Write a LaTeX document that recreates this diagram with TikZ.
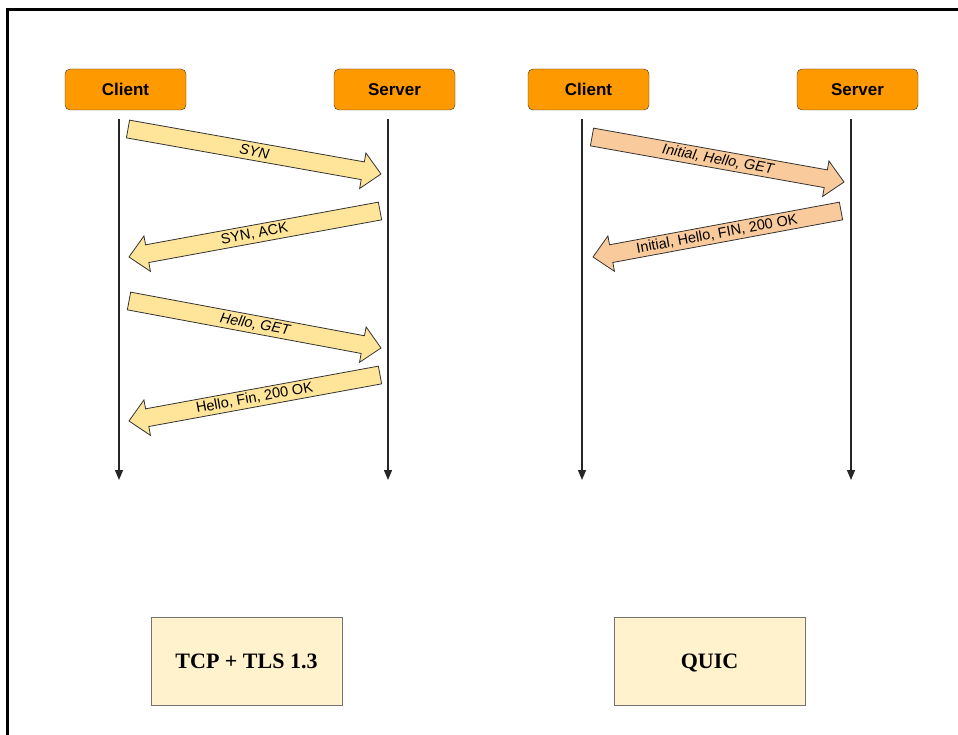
\documentclass[tikz,border=0pt]{standalone}
\usepackage{fontspec}
\setmainfont{Liberation Serif}
\setsansfont{Liberation Sans}
\usetikzlibrary{calc,arrows.meta}

\definecolor{partyorange}{HTML}{FF9900}
\definecolor{tcpyellow}{HTML}{FFE599}
\definecolor{quicpeach}{HTML}{F9CB9C}
\definecolor{resultfill}{HTML}{FFF2CC}

\tikzset{
  party/.style={draw=black!80, fill=partyorange, rounded corners=5pt,
    minimum width=121pt, minimum height=41pt, inner sep=0pt,
    font=\sffamily\bfseries\fontsize{17}{20}\selectfont},
  lifeline/.style={draw=black!85, line width=1.3pt,
    -{Triangle[length=10pt,width=8pt]}},
  result/.style={draw=black!55, fill=resultfill, line width=0.9pt,
    minimum width=191pt, minimum height=88pt, inner sep=0pt,
    text height=15pt, text depth=0pt,
    font=\bfseries\fontsize{22}{26}\selectfont},
  msgbody/.style={draw=black!80, line width=0.8pt, line join=miter},
  fwdlabel/.style={font=\sffamily\itshape\fontsize{14.5}{17}\selectfont, inner sep=0pt},
  backlabel/.style={font=\sffamily\fontsize{14.5}{17}\selectfont, inner sep=0pt},
}

% Block arrow from #1 (tail centre) to #2 (tip), fill #3, label style #4, label #5
\newcommand\msgarrow[5]{%
  \coordinate (hb) at ($(#2)!18.5pt!(#1)$);
  \draw[msgbody, fill=#3]
    ($(#1)!9pt!90:(#2)$) -- ($(hb)!9pt!90:(#2)$) -- ($(hb)!18pt!90:(#2)$)
    -- (#2) -- ($(hb)!18pt!-90:(#2)$) -- ($(hb)!9pt!-90:(#2)$)
    -- ($(#1)!9pt!-90:(#2)$) -- cycle;
  \path (#1) -- (#2) node[midway, sloped, #4] {#5};
}

\begin{document}
\begin{tikzpicture}[x=1pt, y=-1pt]
  \useasboundingbox (0,0) rectangle (958,735);
  \fill[white] (0,0) rectangle (958,735);

  % outer frame (only top and left edges fall inside the page)
  \draw[line width=3pt, line join=miter] (7.5,735) -- (7.5,9.5) -- (958,9.5);

  % participants
  \node[party] (c1) at (125.5,89.5) {Client};
  \node[party] (s1) at (394.5,89.5) {Server};
  \node[party] (c2) at (588.5,89.5) {Client};
  \node[party] (s2) at (857.5,89.5) {Server};

  % lifelines
  \coordinate (c1top) at (119,119); \coordinate (c1end) at (119,480);
  \coordinate (s1top) at (388,119); \coordinate (s1end) at (388,480);
  \coordinate (c2top) at (582,119); \coordinate (c2end) at (582,480);
  \coordinate (s2top) at (851,119); \coordinate (s2end) at (851,480);
  \draw[lifeline] (c1top) -- (c1end);
  \draw[lifeline] (s1top) -- (s1end);
  \draw[lifeline] (c2top) -- (c2end);
  \draw[lifeline] (s2top) -- (s2end);

  % TCP + TLS 1.3 exchange
  \coordinate (m1a) at (128,129); \coordinate (m1b) at (381,174);
  \coordinate (m2a) at (380,211); \coordinate (m2b) at (129,257);
  \coordinate (m3a) at (129,301); \coordinate (m3b) at (381,348);
  \coordinate (m4a) at (380,375); \coordinate (m4b) at (129,421);
  \msgarrow{m1a}{m1b}{tcpyellow}{fwdlabel}{SYN}
  \msgarrow{m2a}{m2b}{tcpyellow}{backlabel}{SYN, ACK}
  \msgarrow{m3a}{m3b}{tcpyellow}{fwdlabel}{Hello, GET}
  \msgarrow{m4a}{m4b}{tcpyellow}{backlabel}{Hello, Fin, 200 OK}

  % QUIC exchange
  \coordinate (q1a) at (592,137); \coordinate (q1b) at (844,182);
  \coordinate (q2a) at (841,211); \coordinate (q2b) at (593,257);
  \msgarrow{q1a}{q1b}{quicpeach}{fwdlabel}{Initial, Hello, GET}
  \msgarrow{q2a}{q2b}{quicpeach}{backlabel}{Initial, Hello, FIN, 200 OK}

  % captions
  \node[result] (tcp) at (246.5,661) {TCP + TLS 1.3};
  \node[result] (quic) at (709.5,661) {QUIC};
\end{tikzpicture}
\end{document}
